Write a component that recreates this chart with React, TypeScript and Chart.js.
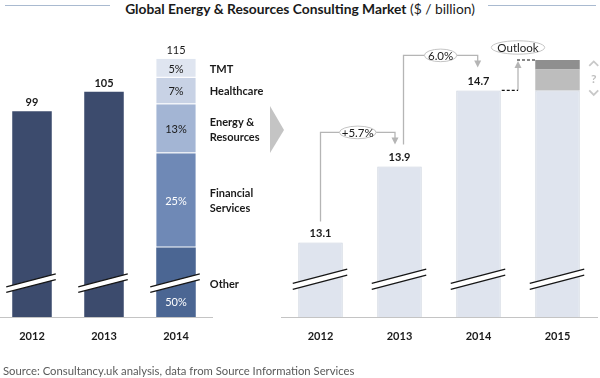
import React, { useEffect, useRef } from 'react';
import { Chart, registerables } from 'chart.js';
Chart.register(...registerables);

const FONT = 'Lato, "Open Sans", sans-serif';

// ---------- data ----------
const leftYears = ['2012', '2013', '2014'];
const leftTotals = [99, 105, 115];
const segmentNames = ['Other', 'Financial Services', 'Energy & Resources', 'Healthcare', 'TMT'];
const segmentLabelLines = [['Other'], ['Financial', 'Services'], ['Energy &', 'Resources'], ['Healthcare'], ['TMT']];
const segmentShares = [50, 25, 13, 7, 5];

const rightYears = ['2012', '2013', '2014', '2015'];
const rightValues = [13.1, 13.9, 14.7];
const growthLabels = ['+5.7%', '6.0%'];
const outlookBase = 14.7;
const outlookLow = 0.22;
const outlookHigh = 0.1;

// broken-axis visible ranges
const leftAxisRange = [36.3, 129.9];
const rightAxisRange = [12.315, 15.546];
const leftBreakValue = 46.7;
const rightBreakValue = 12.714;

// ---------- styles ----------
const TEXT = '#1a1a1a';
const NAVY = '#3c4b6d';
const SEG_COLORS = ['#4b6693', '#6f89b6', '#a3b5d4', '#c8d2e5', '#dfe5f0'];
const LIGHT_BAR = '#dfe4ee';
const LIGHT_BORDER = '#cad1dd';
const ARROW = '#b5b5b5';

function drawBreak(ctx: CanvasRenderingContext2D, cx: number, cy: number, extL: number, extR: number, slope: number, gap: number) {
  const x1 = cx - extL;
  const x2 = cx + extR;
  const y1 = cy + extL * slope;
  const y2 = cy - extR * slope;
  ctx.save();
  ctx.beginPath();
  ctx.moveTo(x1, y1 - gap / 2);
  ctx.lineTo(x2, y2 - gap / 2);
  ctx.lineTo(x2, y2 + gap / 2);
  ctx.lineTo(x1, y1 + gap / 2);
  ctx.closePath();
  ctx.fillStyle = '#ffffff';
  ctx.fill();
  ctx.strokeStyle = '#161616';
  ctx.lineWidth = 1.3;
  ctx.beginPath();
  ctx.moveTo(x1, y1 - gap / 2);
  ctx.lineTo(x2, y2 - gap / 2);
  ctx.moveTo(x1, y1 + gap / 2);
  ctx.lineTo(x2, y2 + gap / 2);
  ctx.stroke();
  ctx.restore();
}

function text(ctx: CanvasRenderingContext2D, s: string, x: number, y: number, opts: { size?: number; bold?: boolean; color?: string; align?: CanvasTextAlign } = {}) {
  ctx.save();
  ctx.font = `${opts.bold ? 'bold ' : ''}${opts.size ?? 11}px ${FONT}`;
  ctx.fillStyle = opts.color ?? TEXT;
  ctx.textAlign = opts.align ?? 'center';
  ctx.textBaseline = 'middle';
  ctx.fillText(s, x, y);
  ctx.restore();
}

function ellipseLabel(ctx: CanvasRenderingContext2D, s: string, cx: number, cy: number, rx: number, ry: number) {
  ctx.save();
  ctx.beginPath();
  ctx.ellipse(cx, cy, rx, ry, 0, 0, Math.PI * 2);
  ctx.fillStyle = '#ffffff';
  ctx.fill();
  ctx.strokeStyle = '#c4c4c4';
  ctx.lineWidth = 1;
  ctx.stroke();
  ctx.restore();
  text(ctx, s, cx, cy + 0.5, { size: 11.5 });
}

function arrowHead(ctx: CanvasRenderingContext2D, x: number, tipY: number, dir: 1 | -1) {
  ctx.save();
  ctx.fillStyle = ARROW;
  ctx.beginPath();
  ctx.moveTo(x - 3.5, tipY - dir * 7);
  ctx.lineTo(x + 3.5, tipY - dir * 7);
  ctx.lineTo(x, tipY);
  ctx.closePath();
  ctx.fill();
  ctx.restore();
}

function bracket(ctx: CanvasRenderingContext2D, x1: number, y1: number, yH: number, x2: number, yTip: number, label: string, rx: number, ry: number) {
  ctx.save();
  ctx.strokeStyle = ARROW;
  ctx.lineWidth = 1.3;
  ctx.beginPath();
  ctx.moveTo(x1, y1);
  ctx.lineTo(x1, yH);
  ctx.lineTo(x2, yH);
  ctx.lineTo(x2, yTip - 5);
  ctx.stroke();
  ctx.restore();
  arrowHead(ctx, x2, yTip, 1);
  ellipseLabel(ctx, label, (x1 + x2) / 2, yH, rx, ry);
}

const leftPlugin = {
  id: 'leftDecor',
  afterDatasetsDraw(chart: any) {
    const ctx: CanvasRenderingContext2D = chart.ctx;
    const xs = chart.scales.x;
    const ys = chart.scales.y;
    const area = chart.chartArea;
    const segMeta0 = chart.getDatasetMeta(1).data[2];
    const barW = segMeta0.width;

    // breaks
    leftYears.forEach((_, i) => {
      const cx = xs.getPixelForValue(i);
      drawBreak(ctx, cx, ys.getPixelForValue(leftBreakValue), barW / 2 + 6, barW / 2 + 4, 0.26, 5.6);
    });

    // totals
    leftTotals.forEach((v, i) => {
      const cx = xs.getPixelForValue(i);
      text(ctx, String(v), cx, ys.getPixelForValue(v) - 8.5, { size: 11, bold: i < 2 });
    });

    // segments
    segmentNames.forEach((_, i) => {
      const el = chart.getDatasetMeta(1 + i).data[2];
      const top = el.y;
      const base = Math.min(el.base, area.bottom);
      const mid = (top + base) / 2;
      const cx = el.x;
      const isDark = i < 2;
      text(ctx, segmentShares[i] + '%', cx, i === 0 ? mid + 20 : mid + 1, { size: 11, color: isDark ? '#ffffff' : TEXT });
      const lines = segmentLabelLines[i];
      const lx = cx + barW / 2 + 14;
      const off = i === 0 ? 2.5 : 1;
      lines.forEach((ln, k) => {
        const ly = mid + off + (k - (lines.length - 1) / 2) * 15;
        text(ctx, ln, lx, ly, { size: 11, bold: true, align: 'left' });
      });
    });

    // big chevron arrow
    ctx.save();
    ctx.fillStyle = '#c4c4c4';
    ctx.beginPath();
    const ax = area.right + 58;
    ctx.moveTo(ax, 106);
    ctx.lineTo(ax + 14, 130);
    ctx.lineTo(ax, 153);
    ctx.closePath();
    ctx.fill();
    ctx.restore();
  },
};

const rightPlugin = {
  id: 'rightDecor',
  afterDatasetsDraw(chart: any) {
    const ctx: CanvasRenderingContext2D = chart.ctx;
    const xs = chart.scales.x;
    const ys = chart.scales.y;
    const els = chart.getDatasetMeta(0).data;
    const barW = els[0].width;

    // breaks
    rightYears.forEach((_, i) => {
      const cx = xs.getPixelForValue(i);
      drawBreak(ctx, cx, ys.getPixelForValue(rightBreakValue), barW / 2 + 5.5, barW / 2 + 4.5, 0.26, 6);
    });

    const tops = rightValues.map((v) => ys.getPixelForValue(v));
    const cxs = rightYears.map((_, i) => xs.getPixelForValue(i));

    rightValues.forEach((v, i) => {
      text(ctx, v.toFixed(1), cxs[i], tops[i] - 8.5, { size: 11, bold: true });
    });

    // growth brackets
    bracket(ctx, cxs[0], tops[0] - 21, tops[1] - 34, cxs[1] - 4.5, tops[1] - 22, growthLabels[0], 18.3, 6.3);
    bracket(ctx, cxs[1] + 4, tops[1] - 22, tops[2] - 35, cxs[2] - 0.8, tops[2] - 23, growthLabels[1], 16.2, 6.3);

    // outlook
    const topOut = ys.getPixelForValue(outlookBase + outlookLow + outlookHigh);
    const r2 = cxs[2] + barW / 2;
    const l3 = cxs[3] - barW / 2;
    const midX = (r2 + l3) / 2;
    ctx.save();
    ctx.strokeStyle = ARROW;
    ctx.lineWidth = 1.3;
    ctx.beginPath();
    ctx.moveTo(midX, tops[2]);
    ctx.lineTo(midX, topOut + 6);
    ctx.stroke();
    ctx.restore();
    arrowHead(ctx, midX, topOut + 1, -1);
    ctx.save();
    ctx.strokeStyle = '#111111';
    ctx.lineWidth = 1.2;
    ctx.setLineDash([3, 2]);
    ctx.beginPath();
    ctx.moveTo(r2 + 1, tops[2]);
    ctx.lineTo(midX, tops[2]);
    ctx.moveTo(midX - 1, topOut);
    ctx.lineTo(l3, topOut);
    ctx.stroke();
    ctx.restore();
    ellipseLabel(ctx, 'Outlook', midX, topOut - 12.5, 26.7, 6.7);

    // uncertainty marks
    const qx = cxs[3] + barW / 2 + 14;
    ctx.save();
    ctx.strokeStyle = '#c8c8c8';
    ctx.lineWidth = 1.8;
    ctx.beginPath();
    ctx.moveTo(qx - 4.5, topOut + 6);
    ctx.lineTo(qx, topOut + 1.5);
    ctx.lineTo(qx + 4.5, topOut + 6);
    ctx.moveTo(qx - 4.5, topOut + 30.5);
    ctx.lineTo(qx, topOut + 35);
    ctx.lineTo(qx + 4.5, topOut + 30.5);
    ctx.stroke();
    ctx.restore();
    text(ctx, '?', qx, topOut + 19, { size: 12, bold: true, color: '#c0c0c0' });
  },
};

function xAxis() {
  return {
    stacked: true,
    grid: { display: false, drawTicks: false },
    border: { display: true, color: '#c4c4c4', width: 1 },
    ticks: { font: { family: FONT, size: 11, weight: 'bold' as const }, color: TEXT, padding: 13 },
    afterFit: (s: any) => {
      s.height = 61;
    },
  };
}

export default function App() {
  const leftRef = useRef<HTMLCanvasElement>(null);
  const rightRef = useRef<HTMLCanvasElement>(null);

  useEffect(() => {
    const segValues = segmentShares.map((s) => (s * leftTotals[2]) / 100);
    const left = new Chart(leftRef.current!, {
      type: 'bar',
      data: {
        labels: leftYears,
        datasets: [
          { label: 'Total', data: [leftTotals[0], leftTotals[1], null], backgroundColor: NAVY, borderWidth: 0, clip: 0 } as any,
          ...segmentNames.map((n, i) => ({
            label: n,
            data: [null, null, segValues[i]],
            backgroundColor: SEG_COLORS[i],
            borderColor: '#ffffff',
            borderWidth: i === 0 ? 0 : { top: 0, left: 0, right: 0, bottom: 1 },
            borderSkipped: false,
            clip: 0,
          })),
        ],
      },
      options: {
        animation: false,
        responsive: false,
        maintainAspectRatio: false,
        events: [],
        layout: { padding: { left: 0, right: 78, top: 10, bottom: 0 } },
        datasets: { bar: { barPercentage: 0.549, categoryPercentage: 1 } },
        plugins: { legend: { display: false }, tooltip: { enabled: false } },
        scales: {
          x: xAxis() as any,
          y: { stacked: true, display: false, min: leftAxisRange[0], max: leftAxisRange[1] },
        },
      },
      plugins: [leftPlugin],
    });

    const right = new Chart(rightRef.current!, {
      type: 'bar',
      data: {
        labels: rightYears,
        datasets: [
          { label: 'Market', data: [...rightValues, outlookBase], backgroundColor: LIGHT_BAR, borderColor: LIGHT_BORDER, borderWidth: 1, clip: 0 } as any,
          { label: 'Outlook low', data: [null, null, null, outlookLow], backgroundColor: '#bdbdbd', borderWidth: 0, clip: 0 },
          { label: 'Outlook high', data: [null, null, null, outlookHigh], backgroundColor: '#8f8f8f', borderWidth: 0, clip: 0 },
        ],
      },
      options: {
        animation: false,
        responsive: false,
        maintainAspectRatio: false,
        events: [],
        layout: { padding: { left: 1, right: 3, top: 10, bottom: 0 } },
        datasets: { bar: { barPercentage: 0.563, categoryPercentage: 1 } },
        plugins: { legend: { display: false }, tooltip: { enabled: false } },
        scales: {
          x: xAxis() as any,
          y: { stacked: true, display: false, min: rightAxisRange[0], max: rightAxisRange[1] },
        },
      },
      plugins: [rightPlugin],
    });

    return () => {
      left.destroy();
      right.destroy();
    };
  }, []);

  return (
    <div style={{ position: 'absolute', left: 0, top: 0, width: 600, height: 378, background: '#fff', overflow: 'hidden', fontFamily: FONT }}>
      <div style={{ position: 'absolute', left: 5, top: 5, width: 105, borderTop: '1.5px solid #a9bad0' }} />
      <div style={{ position: 'absolute', left: 488, top: 5, width: 108, borderTop: '1.5px solid #a9bad0' }} />
      <div style={{ position: 'absolute', left: 0, top: 0, width: 600, textAlign: 'center', fontSize: 13.8, lineHeight: '18px', color: TEXT, whiteSpace: 'nowrap' }}>
        <span style={{ fontWeight: 'bold' }}>Global Energy &amp; Resources Consulting Market</span> ($ / billion)
      </div>
      <canvas ref={leftRef} width={294} height={378} style={{ position: 'absolute', left: -4, top: 0 }} />
      <canvas ref={rightRef} width={320} height={378} style={{ position: 'absolute', left: 280, top: 0 }} />
      <div style={{ position: 'absolute', left: 3, top: 363, fontSize: 11.3, lineHeight: '16px', color: '#5a5a5a', whiteSpace: 'nowrap' }}>
        Source: Consultancy.uk analysis, data from Source Information Services
      </div>
    </div>
  );
}
